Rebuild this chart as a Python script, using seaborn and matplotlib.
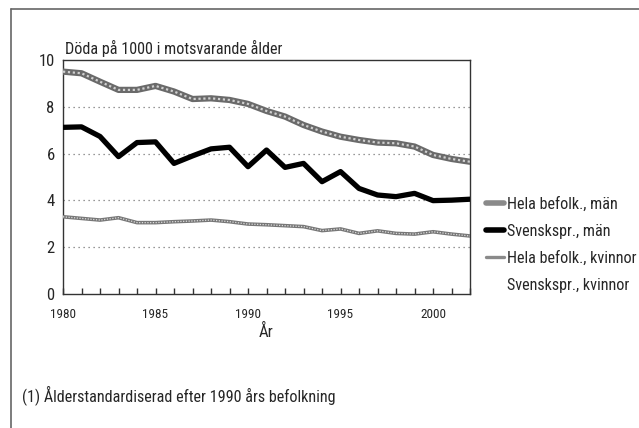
import matplotlib
matplotlib.use('Agg')
import matplotlib.pyplot as plt
import seaborn as sns
import pandas as pd
from matplotlib.lines import Line2D
from matplotlib import font_manager

sns.set_style('white')
names = {f.name for f in font_manager.fontManager.ttflist}
narrow = [n for n in ['Liberation Sans Narrow', 'Roboto Condensed', 'Open Sans Condensed'] if n in names]
plt.rcParams['font.family'] = narrow + ['DejaVu Sans']
plt.rcParams['font.stretch'] = 'condensed'

# Data (läst ur bilden)
years = list(range(1980, 2003))
hela_man = [9.50, 9.43, 9.07, 8.72, 8.72, 8.89, 8.65, 8.33, 8.36, 8.29, 8.12, 7.82,
            7.58, 7.22, 6.94, 6.72, 6.58, 6.47, 6.44, 6.30, 5.94, 5.77, 5.65]
svsk_man = [7.12, 7.14, 6.73, 5.87, 6.47, 6.50, 5.58, 5.90, 6.20, 6.27, 5.44, 6.15,
            5.41, 5.58, 4.80, 5.23, 4.51, 4.23, 4.16, 4.30, 3.99, 4.01, 4.05]
hela_kv = [3.30, 3.23, 3.16, 3.26, 3.05, 3.05, 3.09, 3.12, 3.16, 3.09, 2.99, 2.96,
           2.92, 2.88, 2.71, 2.78, 2.59, 2.70, 2.59, 2.56, 2.66, 2.56, 2.48]
labels = ['Hela befolk., män', 'Svenskspr., män', 'Hela befolk., kvinnor', 'Svenskspr., kvinnor']

df = pd.DataFrame({'year': years, 'hm': hela_man, 'sm': svsk_man, 'hk': hela_kv})

fig = plt.figure(figsize=(6.39, 4.28), dpi=100)
ax = fig.add_axes([0.0986, 0.313, 0.637, 0.547])

# Ram runt figuren (vänster och överkant)
fig.add_artist(Line2D([11/639, 11/639], [0, 1 - 9/428], color='#666', lw=1.2))
fig.add_artist(Line2D([11/639, 1], [1 - 9/428, 1 - 9/428], color='#666', lw=1.2))

for y in [2, 4, 6, 8]:
    ax.axhline(y, color='#777', lw=0.9, ls=(0, (1, 3)), zorder=1)

# Hela befolk., män - texturerad grå linje
sns.lineplot(data=df, x='year', y='hm', ax=ax, color='#6a6a6a', lw=4.5, zorder=3)
sns.lineplot(data=df, x='year', y='hm', ax=ax, color='#d0d0d0', lw=1.6, ls=(0, (1, 1.2)), zorder=4)
# Svenskspr., män
sns.lineplot(data=df, x='year', y='sm', ax=ax, color='black', lw=3.8, zorder=5)
# Hela befolk., kvinnor
sns.lineplot(data=df, x='year', y='hk', ax=ax, color='#777777', lw=2.6, zorder=3)
sns.lineplot(data=df, x='year', y='hk', ax=ax, color='#dddddd', lw=0.9, ls=(0, (1, 1.2)), zorder=4)

ax.set_xlim(1980, 2002)
ax.set_ylim(0, 10)
ax.set_xticks(years, minor=True)
ax.set_xticks([1980, 1985, 1990, 1995, 2000])
ax.tick_params(axis='x', which='both', direction='in', length=4, width=1, color='#333',
               labelsize=9.5, pad=10, bottom=True)
ax.set_yticks([0, 2, 4, 6, 8, 10])
ax.tick_params(axis='y', length=0, labelsize=12, pad=6)
ax.set_xlabel('År', fontsize=12, labelpad=2)
ax.set_ylabel('')
for s in ax.spines.values():
    s.set_color('#333')
    s.set_linewidth(1.0)

fig.text(65/639, 1 - 48/428, 'Döda på 1000 i motsvarande ålder', fontsize=11.6, va='center', ha='left')
fig.text(22/639, 1 - 395/428, '(1) Ålderstandardiserad efter 1990 års befolkning', fontsize=11.6,
         va='center', ha='left')

handles = [Line2D([], [], color='#8a8a8a', lw=4),
           Line2D([], [], color='black', lw=4),
           Line2D([], [], color='#8a8a8a', lw=2.4),
           Line2D([], [], color='none', lw=2)]
fig.legend(handles, labels, loc='upper left', bbox_to_anchor=(480/639, 1 - 190/428),
           frameon=False, fontsize=11.6, handlelength=1.1, handletextpad=0.2,
           labelspacing=0.75, borderaxespad=0)

fig.savefig('out.png', dpi=100, facecolor='white')
